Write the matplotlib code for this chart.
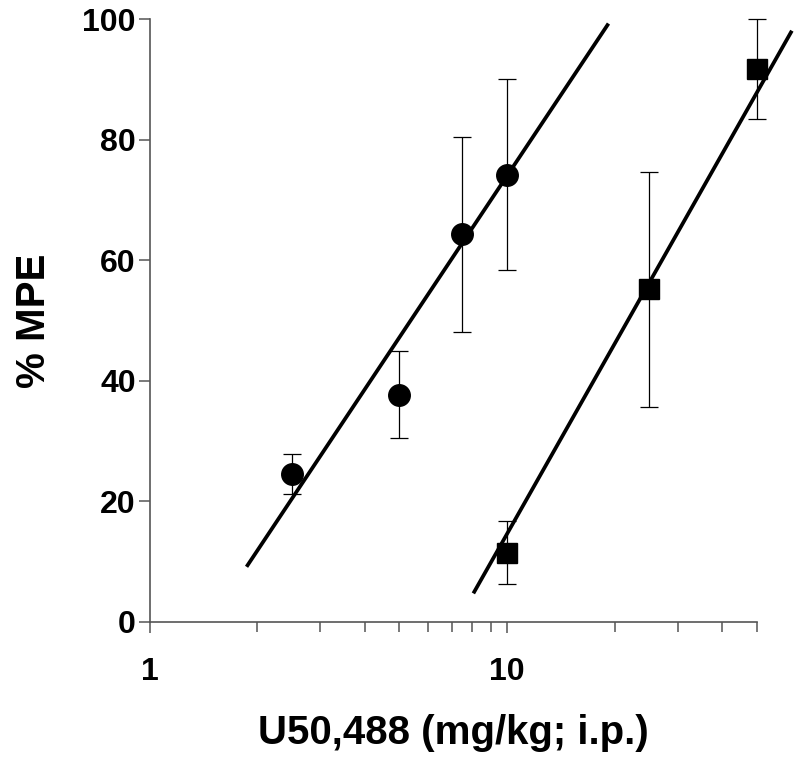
import matplotlib.pyplot as plt
from matplotlib.ticker import LogLocator, FixedLocator, NullFormatter

plt.rcParams['font.family'] = ['Liberation Sans', 'DejaVu Sans']
plt.rcParams['font.weight'] = 'bold'

# dose (mg/kg) and %MPE, mean +/- SEM
dose_circle = [2.5, 5, 7.5, 10]
mpe_circle = [24.5, 37.7, 64.3, 74.2]
err_circle = [3.3, 7.2, 16.2, 15.9]

dose_square = [10, 25, 50]
mpe_square = [11.5, 55.2, 91.7]
err_square = [5.2, 19.5, 8.3]

# regression line end points, as drawn
fit_circle_x = [1.88, 19.1]
fit_circle_y = [9.4, 99.0]
fit_square_x = [8.1, 62.3]
fit_square_y = [5.0, 97.8]

fig = plt.figure(figsize=(8, 7.64), dpi=100)
ax = fig.add_axes([0.187, 0.186, 0.759, 0.789])

ax.plot(fit_circle_x, fit_circle_y, color='black', linewidth=2.7, clip_on=False, zorder=2)
ax.plot(fit_square_x, fit_square_y, color='black', linewidth=2.7, clip_on=False, zorder=2)

ax.errorbar(dose_circle, mpe_circle, yerr=err_circle, fmt='o', color='black',
            markersize=15.5, ecolor='black', elinewidth=0.9, capsize=6.5,
            capthick=0.9, clip_on=False, zorder=3)
ax.errorbar(dose_square, mpe_square, yerr=err_square, fmt='s', color='black',
            markersize=14, ecolor='black', elinewidth=0.9, capsize=6.5,
            capthick=0.9, clip_on=False, zorder=3)

ax.set_xscale('log')
ax.set_xlim(1, 50)
ax.set_ylim(0, 100)
ax.xaxis.set_major_locator(FixedLocator([1, 10]))
ax.set_xticklabels(['1', '10'])
ax.xaxis.set_minor_locator(LogLocator(base=10, subs=range(2, 10)))
ax.xaxis.set_minor_formatter(NullFormatter())
ax.set_yticks([0, 20, 40, 60, 80, 100])

for s in ['top', 'right']:
    ax.spines[s].set_visible(False)
for s in ['left', 'bottom']:
    ax.spines[s].set_color('#555555')
    ax.spines[s].set_linewidth(1.2)

ax.tick_params(axis='both', which='major', labelsize=23, length=8, width=1.1,
               color='#555555')
ax.tick_params(axis='y', which='major', pad=2)
ax.tick_params(axis='x', which='minor', length=7, width=1.1, color='#555555')
ax.tick_params(axis='x', which='major', pad=17)

ax.set_xlabel('U50,488 (mg/kg; i.p.)', fontsize=29, fontweight='bold', labelpad=20)
ax.set_ylabel('% MPE', fontsize=29, fontweight='bold', labelpad=21)

fig.savefig('out.png', dpi=100)
